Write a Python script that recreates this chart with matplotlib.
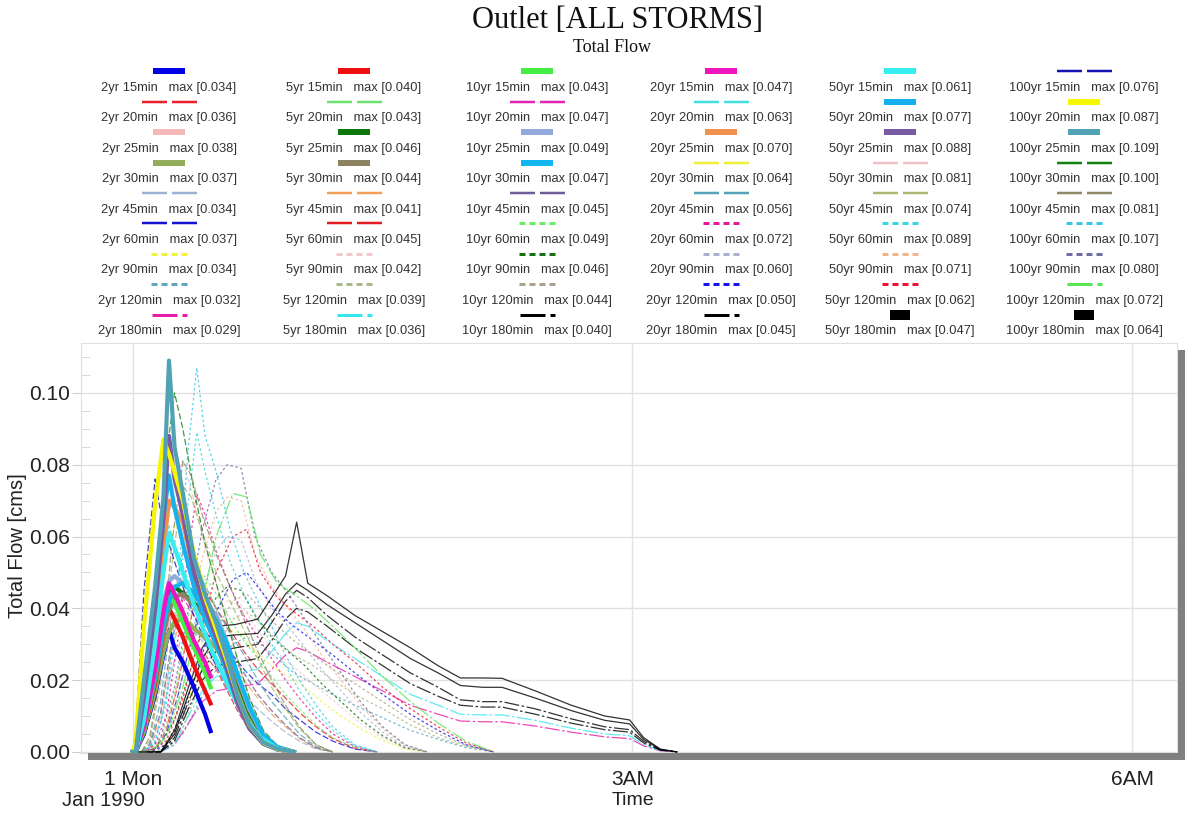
import numpy as np
import matplotlib
matplotlib.use("Agg")
import matplotlib.pyplot as plt
from matplotlib.patches import Rectangle

nan = np.nan

# ---- data (time in minutes after midnight, flow in cms) ----
RETURN = ["2yr", "5yr", "10yr", "20yr", "50yr", "100yr"]
DURATIONS = [15, 20, 25, 30, 45, 60, 90, 120, 180]

# max values printed in the legend, per return period (15 .. 180 min)
MAX_2 = ["0.034", "0.036", "0.038", "0.037", "0.034", "0.037", "0.034", "0.032", "0.029"]
MAX_5 = ["0.040", "0.043", "0.046", "0.044", "0.041", "0.045", "0.042", "0.039", "0.036"]
MAX_10 = ["0.043", "0.047", "0.049", "0.047", "0.045", "0.049", "0.046", "0.044", "0.040"]
MAX_20 = ["0.047", "0.063", "0.070", "0.064", "0.056", "0.072", "0.060", "0.050", "0.045"]
MAX_50 = ["0.061", "0.077", "0.088", "0.081", "0.074", "0.089", "0.071", "0.062", "0.047"]
MAX_100 = ["0.076", "0.087", "0.109", "0.100", "0.081", "0.107", "0.080", "0.072", "0.064"]

T15 = [0, 1, 4, 8, 11, 13, 15, 18, 22, 26, 28, 34, 40, 46, 52, 58]
Q15 = [
    [0, 0, 0.005, 0.016, 0.027, 0.034, 0.029, 0.025, 0.018, 0.0105, 0.0058, nan, nan, nan, nan, nan],
    [0, 0, 0.006, 0.019, 0.033, 0.040, 0.037, 0.032, 0.024, 0.017, 0.0135, nan, nan, nan, nan, nan],
    [0, 0, 0.006, 0.021, 0.036, 0.043, 0.0415, 0.036, 0.029, 0.022, 0.018, nan, nan, nan, nan, nan],
    [0, 0, 0.007, 0.023, 0.039, 0.047, 0.044, 0.039, 0.031, 0.025, 0.021, nan, nan, nan, nan, nan],
    [0, 0, 0.009, 0.030, 0.050, 0.061, 0.057, 0.050, 0.041, 0.033, 0.029, 0.019, 0.010, 0.004, 0.001, 0],
    [0, 0.006, 0.045, 0.076, 0.062, 0.058, 0.053, 0.046, 0.038, 0.031, 0.027, 0.018, 0.0095, 0.0035, 0.001, 0],
]

TS = [0, 1, 4, 8, 11, 13, 15, 18, 22, 26, 30, 34, 38, 42, 47, 52, 58]
Q20 = [
    [0, 0, 0.007, 0.020, 0.031, 0.036, 0.035, 0.033, 0.030, 0.027, 0.023, 0.017, 0.011, 0.006, 0.002, 0.0006, 0],
    [0, 0, 0.0086, 0.024, 0.037, 0.043, 0.042, 0.039, 0.035, 0.031, 0.027, 0.020, 0.013, 0.007, 0.0025, 0.0007, 0],
    [0, 0, 0.0094, 0.026, 0.040, 0.047, 0.046, 0.043, 0.038, 0.034, 0.029, 0.022, 0.014, 0.0076, 0.0027, 0.0008, 0],
    [0, 0, 0.013, 0.033, 0.052, 0.063, 0.058, 0.052, 0.043, 0.036, 0.030, 0.022, 0.014, 0.0075, 0.0026, 0.0008, 0],
    [0, 0, 0.015, 0.040, 0.065, 0.077, 0.068, 0.058, 0.046, 0.037, 0.030, 0.022, 0.013, 0.0066, 0.0023, 0.0007, 0],
    [0, 0.003, 0.035, 0.069, 0.087, 0.083, 0.078, 0.070, 0.055, 0.043, 0.034, 0.025, 0.015, 0.0075, 0.0026, 0.0008, 0],
]
Q25 = [
    [0, 0, 0.0076, 0.021, 0.0323, 0.0369, 0.038, 0.0365, 0.0342, 0.0323, 0.0296, 0.0236, 0.016, 0.0091, 0.0034, 0.001, 0],
    [0, 0, 0.0092, 0.0253, 0.0391, 0.0446, 0.046, 0.0442, 0.0414, 0.0391, 0.0359, 0.0285, 0.0193, 0.011, 0.0041, 0.0012, 0],
    [0, 0, 0.0098, 0.027, 0.0417, 0.0475, 0.049, 0.047, 0.0441, 0.0417, 0.0382, 0.0304, 0.0206, 0.0118, 0.0044, 0.0012, 0],
    [0, 0, 0.014, 0.035, 0.056, 0.070, 0.068, 0.064, 0.050, 0.040, 0.032, 0.023, 0.014, 0.007, 0.0024, 0.0007, 0],
    [0, 0, 0.016, 0.040, 0.065, 0.088, 0.076, 0.066, 0.050, 0.040, 0.032, 0.023, 0.013, 0.0065, 0.0023, 0.0007, 0],
    [0, 0, 0.020, 0.046, 0.071, 0.109, 0.085, 0.072, 0.054, 0.044, 0.036, 0.026, 0.015, 0.0076, 0.0027, 0.0009, 0],
]
Q30 = [
    [0, 0, 0.0055, 0.0167, 0.0278, 0.0333, 0.0363, 0.037, 0.0344, 0.0318, 0.0289, 0.0237, 0.0167, 0.010, 0.0037, 0.0011, 0],
    [0, 0, 0.0066, 0.0198, 0.033, 0.0396, 0.0431, 0.044, 0.0409, 0.0378, 0.0343, 0.0282, 0.0198, 0.0119, 0.0044, 0.0013, 0],
    [0, 0, 0.007, 0.021, 0.035, 0.042, 0.046, 0.047, 0.044, 0.040, 0.0367, 0.030, 0.021, 0.0127, 0.0047, 0.0014, 0],
    [0, 0, 0.010, 0.029, 0.048, 0.058, 0.063, 0.064, 0.056, 0.047, 0.040, 0.031, 0.021, 0.012, 0.0045, 0.0013, 0],
    [0, 0, 0.008, 0.028, 0.052, 0.066, 0.076, 0.081, 0.070, 0.057, 0.047, 0.036, 0.025, 0.015, 0.006, 0.0017, 0],
    [0, 0, 0.012, 0.040, 0.070, 0.088, 0.100, 0.090, 0.073, 0.058, 0.047, 0.036, 0.025, 0.015, 0.006, 0.0017, 0],
]

T45 = [0, 3, 6, 10, 14, 18, 21, 25, 30, 35, 40, 45, 50, 55, 60, 66, 72]
Q45 = [
    [0, 0, 0.001, 0.008, 0.023, 0.033, 0.034, 0.031, 0.025, 0.021, 0.016, 0.012, 0.0085, 0.0055, 0.003, 0.0008, 0],
    [0, 0, 0.001, 0.010, 0.028, 0.040, 0.041, 0.037, 0.030, 0.025, 0.020, 0.015, 0.0105, 0.007, 0.0037, 0.001, 0],
    [0, 0, 0.002, 0.011, 0.031, 0.044, 0.045, 0.040, 0.033, 0.027, 0.022, 0.016, 0.0115, 0.0075, 0.004, 0.0012, 0],
    [0, 0, 0.002, 0.014, 0.039, 0.056, 0.055, 0.048, 0.040, 0.033, 0.027, 0.020, 0.014, 0.0095, 0.005, 0.0015, 0],
    [0, 0, 0.003, 0.019, 0.052, 0.074, 0.071, 0.061, 0.050, 0.042, 0.034, 0.026, 0.018, 0.012, 0.0065, 0.002, 0],
    [0, 0, 0.004, 0.022, 0.058, 0.081, 0.077, 0.066, 0.055, 0.046, 0.037, 0.028, 0.020, 0.013, 0.007, 0.002, 0],
]

T60 = [0, 4, 8, 12, 16, 20, 23, 26, 30, 35, 40, 45, 50, 55, 60, 66, 72, 80, 88]
Q60 = [
    [0, 0, 0.001, 0.005, 0.015, 0.028, 0.036, 0.037, 0.033, 0.028, 0.023, 0.019, 0.016, 0.012, 0.009, 0.0055, 0.003, 0.0008, 0],
    [0, 0, 0.001, 0.006, 0.018, 0.034, 0.044, 0.045, 0.040, 0.034, 0.028, 0.023, 0.019, 0.015, 0.011, 0.007, 0.0037, 0.001, 0],
    [0, 0, 0.001, 0.007, 0.020, 0.038, 0.048, 0.049, 0.044, 0.037, 0.031, 0.026, 0.021, 0.016, 0.012, 0.0075, 0.004, 0.0012, 0],
    [0, 0, 0.002, 0.010, 0.030, 0.056, 0.072, 0.066, 0.056, 0.046, 0.038, 0.032, 0.026, 0.020, 0.015, 0.0095, 0.005, 0.0015, 0],
    [0, 0, 0.003, 0.013, 0.038, 0.070, 0.089, 0.078, 0.066, 0.053, 0.044, 0.037, 0.030, 0.024, 0.017, 0.011, 0.006, 0.0017, 0],
    [0, 0, 0.003, 0.015, 0.045, 0.085, 0.107, 0.088, 0.078, 0.062, 0.050, 0.042, 0.035, 0.027, 0.020, 0.013, 0.007, 0.002, 0],
]

T90 = [0, 5, 10, 15, 20, 25, 30, 34, 39, 44, 50, 56, 62, 68, 75, 82, 90, 98, 106]
Q90 = [
    [0, 0, 0.001, 0.006, 0.015, 0.025, 0.032, 0.034, 0.033, 0.028, 0.024, 0.021, 0.018, 0.014, 0.010, 0.0065, 0.0032, 0.0008, 0],
    [0, 0, 0.001, 0.008, 0.019, 0.031, 0.039, 0.042, 0.041, 0.035, 0.029, 0.025, 0.021, 0.017, 0.0125, 0.008, 0.004, 0.001, 0],
    [0, 0, 0.002, 0.009, 0.021, 0.034, 0.043, 0.046, 0.045, 0.038, 0.032, 0.028, 0.024, 0.019, 0.014, 0.009, 0.0045, 0.0012, 0],
    [0, 0, 0.002, 0.012, 0.028, 0.045, 0.056, 0.060, 0.059, 0.048, 0.040, 0.035, 0.029, 0.023, 0.017, 0.011, 0.0055, 0.0015, 0],
    [0, 0, 0.003, 0.015, 0.034, 0.054, 0.067, 0.071, 0.070, 0.055, 0.046, 0.040, 0.034, 0.027, 0.020, 0.013, 0.0065, 0.002, 0],
    [0, 0, 0.004, 0.018, 0.040, 0.062, 0.076, 0.080, 0.079, 0.060, 0.050, 0.044, 0.037, 0.030, 0.022, 0.014, 0.007, 0.002, 0],
]

T120 = [0, 6, 12, 18, 24, 30, 36, 41, 46, 52, 58, 65, 72, 80, 90, 100, 110, 120, 130]
Q120 = [
    [0, 0, 0.001, 0.005, 0.014, 0.023, 0.030, 0.032, 0.030, 0.026, 0.022, 0.019, 0.016, 0.013, 0.0095, 0.006, 0.0035, 0.0012, 0],
    [0, 0, 0.001, 0.007, 0.018, 0.029, 0.037, 0.039, 0.036, 0.031, 0.027, 0.024, 0.020, 0.016, 0.012, 0.0075, 0.004, 0.0015, 0],
    [0, 0, 0.002, 0.009, 0.021, 0.034, 0.042, 0.044, 0.040, 0.035, 0.031, 0.027, 0.023, 0.019, 0.014, 0.009, 0.005, 0.0018, 0],
    [0, 0, 0.002, 0.011, 0.025, 0.039, 0.048, 0.050, 0.045, 0.039, 0.035, 0.031, 0.027, 0.022, 0.016, 0.0105, 0.006, 0.002, 0],
    [0, 0, 0.003, 0.015, 0.032, 0.050, 0.060, 0.062, 0.050, 0.043, 0.039, 0.035, 0.030, 0.025, 0.018, 0.012, 0.007, 0.0025, 0],
    [0, 0, 0.004, 0.018, 0.038, 0.060, 0.072, 0.071, 0.055, 0.047, 0.044, 0.040, 0.035, 0.029, 0.021, 0.014, 0.008, 0.003, 0],
]

T180 = [0, 10, 15, 20, 25, 30, 37, 45, 50, 55, 59, 63, 70, 80, 90, 100, 110, 118, 126, 133,
        145, 158, 170, 179, 184, 190, 196]
Q180 = [
    [0, 0, 0.002, 0.008, 0.014, 0.017, 0.018, 0.019, 0.023, 0.027, 0.029, 0.028, 0.025, 0.021, 0.017, 0.013,
     0.0105, 0.0086, 0.0084, 0.0084, 0.0072, 0.0055, 0.0042, 0.0037, 0.0017, 0.0003, 0],
    [0, 0, 0.002, 0.010, 0.017, 0.021, 0.022, 0.023, 0.028, 0.033, 0.036, 0.035, 0.031, 0.026, 0.021, 0.016,
     0.013, 0.0105, 0.0103, 0.0103, 0.0088, 0.0066, 0.005, 0.0045, 0.002, 0.0004, 0],
    [0, 0, 0.003, 0.012, 0.020, 0.024, 0.025, 0.026, 0.031, 0.037, 0.040, 0.039, 0.035, 0.029, 0.024, 0.019,
     0.0155, 0.013, 0.0125, 0.0125, 0.0105, 0.008, 0.0062, 0.0055, 0.0025, 0.0005, 0],
    [0, 0, 0.004, 0.014, 0.023, 0.028, 0.029, 0.030, 0.036, 0.042, 0.045, 0.043, 0.038, 0.032, 0.027, 0.022,
     0.018, 0.0145, 0.014, 0.014, 0.012, 0.0092, 0.007, 0.0062, 0.003, 0.0006, 0],
    [0, 0, 0.005, 0.016, 0.026, 0.032, 0.0326, 0.033, 0.038, 0.044, 0.047, 0.045, 0.041, 0.036, 0.031, 0.026,
     0.022, 0.0185, 0.018, 0.018, 0.015, 0.0115, 0.0088, 0.0078, 0.0035, 0.0007, 0],
    [0, 0, 0.006, 0.018, 0.029, 0.035, 0.0355, 0.037, 0.043, 0.049, 0.064, 0.047, 0.0435, 0.038, 0.0335, 0.029,
     0.024, 0.0206, 0.0206, 0.0205, 0.017, 0.013, 0.010, 0.0089, 0.004, 0.0008, 0],
]

# ---- styles (per return period, 15 .. 180 min) ----
COL_2 = ["#0000e6", "#e8202c", "#f5b8b8", "#93ad58", "#9cb2d4", "#1414d2", "#f2f23a", "#5ea6bf", "#e81ca8"]
COL_5 = ["#ee1010", "#6ee26e", "#0c780c", "#8e8360", "#f2a058", "#e41c22", "#f2c8cc", "#a9b98a", "#36e6ee"]
COL_10 = ["#44ee44", "#e422b4", "#94aadc", "#12b6ee", "#6e5e98", "#66ee66", "#127212", "#aaa28a", "#000000"]
COL_20 = ["#ee14c0", "#44e0e0", "#f0924e", "#eeee3a", "#56a2b8", "#e8189a", "#a8b2cc", "#1414ee", "#000000"]
COL_50 = ["#36eef0", "#16b0ee", "#7a5aa2", "#f0c2c8", "#a8b870", "#36d8dc", "#f2b48e", "#ee1434", "#000000"]
COL_100 = ["#1414b4", "#f6f600", "#52a2b6", "#128212", "#8e8866", "#36c8e6", "#6e6ea2", "#56e656", "#000000"]

STY_2 = ["solid", "long", "solid", "solid", "long", "long", "short", "short", "longshort"]
STY_5 = ["solid", "long", "solid", "solid", "long", "long", "short", "short", "longshort"]
STY_10 = ["solid", "long", "solid", "solid", "long", "short", "short", "short", "longshort"]
STY_20 = ["solid", "long", "solid", "long", "long", "short", "short", "short", "longshort"]
STY_50 = ["solid", "solid", "solid", "long", "long", "short", "short", "short", "block"]
STY_100 = ["long", "solid", "solid", "long", "long", "short", "short", "longshort", "block"]

COLORS = [COL_2, COL_5, COL_10, COL_20, COL_50, COL_100]
STYLES = [STY_2, STY_5, STY_10, STY_20, STY_50, STY_100]
MAXES = [MAX_2, MAX_5, MAX_10, MAX_20, MAX_50, MAX_100]
TIMES = [T15, TS, TS, TS, T45, T60, T90, T120, T180]
FLOWS = [Q15, Q20, Q25, Q30, Q45, Q60, Q90, Q120, Q180]

plt.rcParams["font.family"] = ["Liberation Sans", "DejaVu Sans"]

W, H = 1187, 813
fig = plt.figure(figsize=(W / 100, H / 100), dpi=100)
ax = fig.add_axes([81 / W, (H - 753) / H, (1177 - 81) / W, (753 - 343) / H])

plot_style = {
    "solid": dict(ls="-", lw=3.0),
    "long": dict(ls=(0, (5, 2)), lw=0.9),
    "short": dict(ls=(0, (2, 2)), lw=0.9),
    "longshort": dict(ls=(0, (12, 2, 2, 2)), lw=0.9),
    "block": dict(ls="-", lw=0.9),
}

# thin lines first, thick solid ones on top
for thick in (False, True):
    for r in range(len(RETURN)):
        for d in range(len(DURATIONS)):
            sty = STYLES[r][d]
            if (sty == "solid") != thick:
                continue
            ax.plot(TIMES[d], FLOWS[d][r], color=COLORS[r][d],
                    zorder=3 if thick else 2, alpha=1.0 if thick else 0.8,
                    **plot_style[sty])

ax.set_xlim(-18.7, 376.2)
ax.set_ylim(-0.0003, 0.1139)
ax.set_yticks([0, 0.02, 0.04, 0.06, 0.08, 0.10])
ax.set_yticklabels(["%.2f" % v for v in [0, 0.02, 0.04, 0.06, 0.08, 0.10]])
ax.set_yticks(np.arange(0, 0.1139, 0.005), minor=True)
ax.set_xticks([0, 180, 360])
ax.set_xticklabels(["1 Mon", "3AM", "6AM"])
ax.grid(True, color="#e2e2e2", lw=1.0)
ax.set_axisbelow(True)
for s in ax.spines.values():
    s.set_color("#e0e0e0")
    s.set_linewidth(0.8)
ax.tick_params(axis="y", which="major", direction="out", length=6.5, color="#cfcfcf",
               labelsize=15, labelcolor="#222222", pad=1.5)
ax.tick_params(axis="y", which="minor", direction="in", length=6.5, color="#d6d6d6")
ax.tick_params(axis="x", which="major", length=0, labelsize=15, labelcolor="#222222", pad=12)
ax.text(-10.5, -0.115, "Jan 1990", transform=ax.get_xaxis_transform(), ha="center",
        va="center", fontsize=14.5, color="#222222")
ax.text(180, -0.115, "Time", transform=ax.get_xaxis_transform(), ha="center",
        va="center", fontsize=14, color="#222222")

# overlay in pixel coordinates for titles, legend and frame shadow
ov = fig.add_axes([0, 0, 1, 1])
ov.set_xlim(0, W)
ov.set_ylim(H, 0)
ov.axis("off")
ov.set_zorder(5)
ov.patch.set_visible(False)

ov.text(617, 20, "Outlet [ALL STORMS]", family="Liberation Serif", fontsize=22,
        ha="center", va="center", color="#111111")
ov.text(612, 47, "Total Flow", family="Liberation Serif", fontsize=13,
        ha="center", va="center", color="#111111")
ov.text(18, 546, "Total Flow [cms]", rotation=90, fontsize=14.5, ha="center",
        va="center", color="#222222")

# legend grid
col_x = [169, 354, 537, 721, 900, 1084]
seg = {
    "solid": ([(-16, 16)], 6),
    "long": ([(-27, -2), (3, 28)], 2.5),
    "short": ([(-18, -12), (-8, -2), (2, 8), (12, 18)], 3),
    "longshort": ([(-17, 8), (13, 18)], 3),
    "block": ([(-10, 10)], 10),
}
for r in range(len(RETURN)):
    for d in range(len(DURATIONS)):
        ty = 88 + 30.4 * d
        sy = ty - 16.5
        cx = col_x[r]
        parts, wpx = seg[STYLES[r][d]]
        for a, b in parts:
            ov.plot([cx + a, cx + b], [sy, sy], color=COLORS[r][d], lw=wpx * 0.72,
                    solid_capstyle="butt")
        ov.text(cx, ty, "%s %dmin   max [%s]" % (RETURN[r], DURATIONS[d], MAXES[r][d]),
                ha="center", va="center", fontsize=9.3, color="#333333")

# drop shadow of the plot frame
ov.add_patch(Rectangle((88, 753), 1185 - 88, 7, color="#808080", lw=0))
ov.add_patch(Rectangle((1178, 350), 7, 410, color="#808080", lw=0))

fig.savefig("out.png", dpi=100)
